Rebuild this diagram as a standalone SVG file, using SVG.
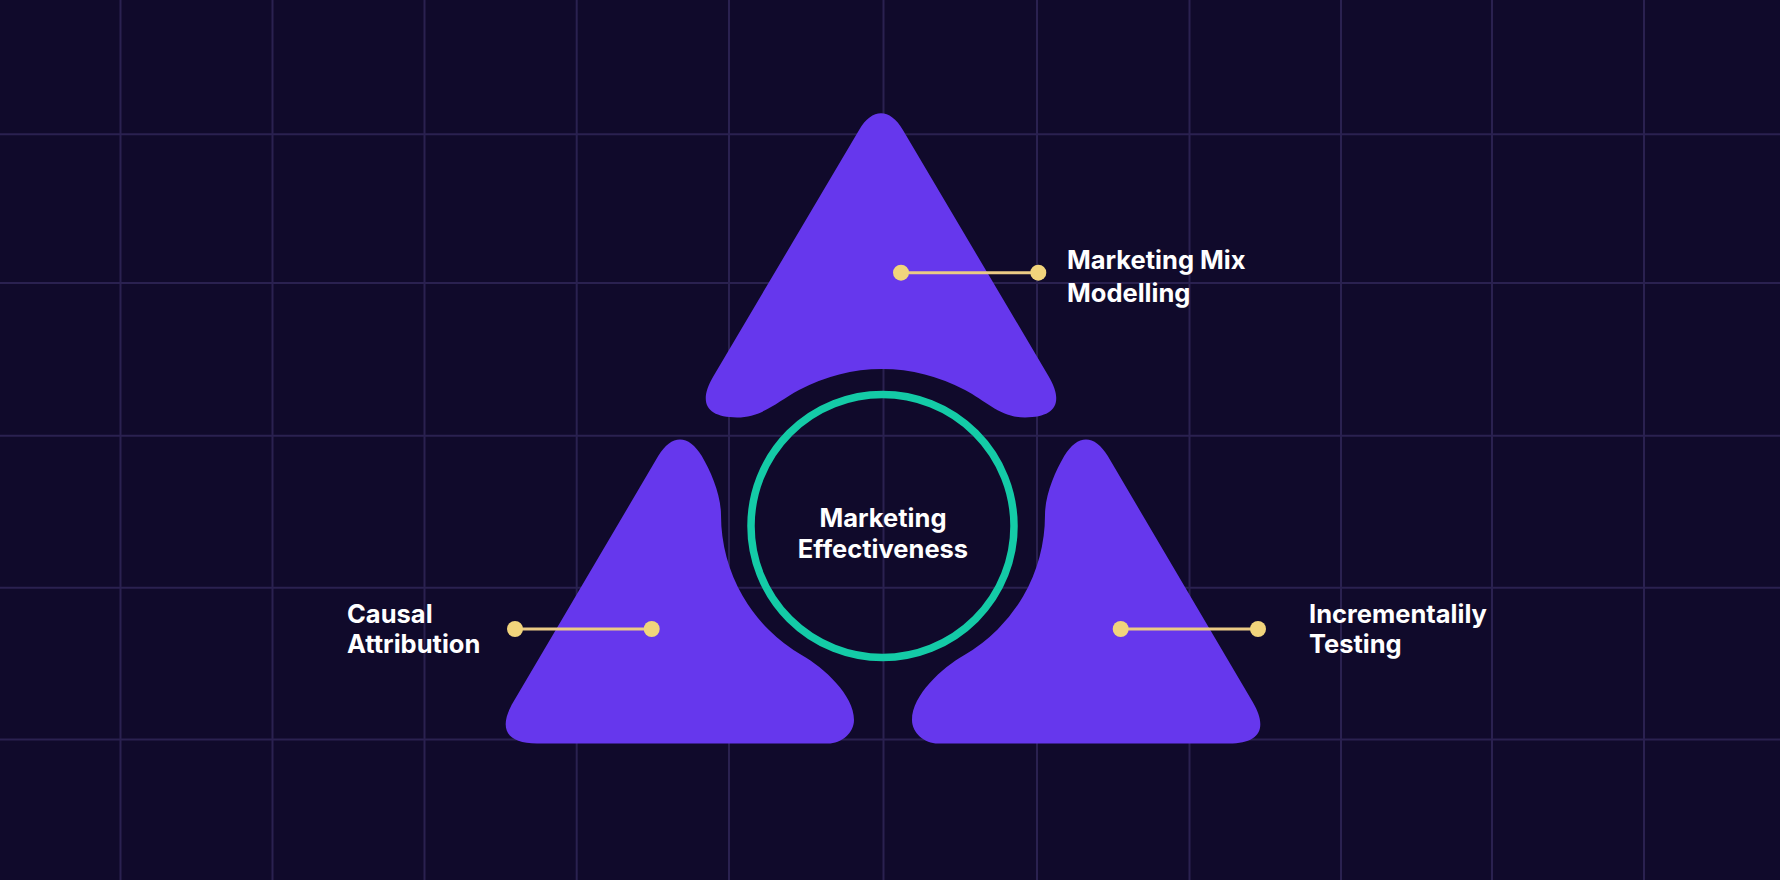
<svg xmlns="http://www.w3.org/2000/svg" width="1780" height="880" viewBox="0 0 1780 880">
<style>
.grid line{stroke:#2a2150;stroke-width:2}
.blob{fill:#6637ed}
.ring{fill:none;stroke:#14cba7;stroke-width:7.5}
.lbl{font-family:Inter,"Noto Sans","Liberation Sans",sans-serif;font-weight:700;font-size:25.5px;fill:#ffffff}
.conn line{stroke:#ebcb85;stroke-width:3}
.conn circle{fill:#f1d47c}
</style>
<rect width="1780" height="880" fill="#100a2b"/>
<g class="grid">
<line x1="120.5" y1="0" x2="120.5" y2="880"/>
<line x1="272.5" y1="0" x2="272.5" y2="880"/>
<line x1="424.5" y1="0" x2="424.5" y2="880"/>
<line x1="576.7" y1="0" x2="576.7" y2="880"/>
<line x1="729" y1="0" x2="729" y2="880"/>
<line x1="883.5" y1="0" x2="883.5" y2="880"/>
<line x1="1037" y1="0" x2="1037" y2="880"/>
<line x1="1189.5" y1="0" x2="1189.5" y2="880"/>
<line x1="1341" y1="0" x2="1341" y2="880"/>
<line x1="1492" y1="0" x2="1492" y2="880"/>
<line x1="1644" y1="0" x2="1644" y2="880"/>
<line x1="0" y1="134.3" x2="1780" y2="134.3"/>
<line x1="0" y1="283" x2="1780" y2="283"/>
<line x1="0" y1="435.7" x2="1780" y2="435.7"/>
<line x1="0" y1="587.7" x2="1780" y2="587.7"/>
<line x1="0" y1="739.5" x2="1780" y2="739.5"/>
</g>
<g id="top-mmm">
<path class="blob" d="M859.1 130 C872.2 107.8 889.8 107.8 902.9 130 L1048.6 376.2 C1064.2 402.6 1055.7 417.5 1025 417.5 C1001 417.5 987 401.9 965 390 A175 175 0 0 0 799 390 C777 401.9 762 417.5 737 417.5 C706.3 417.5 697.8 402.6 713.4 376.2 Z"/>
<text class="lbl" x="1067" y="269">Marketing Mix</text>
<text class="lbl" x="1067" y="302">Modelling</text>
</g>
<g id="left-causal">
<path class="blob" d="M658.2 456.1 C671.3 433.8 688.7 433.8 701.8 456.1 C710.9 471.6 721 495 721 515 A162 162 0 0 0 802 655.3 C823.7 667.8 854 695 854 720 C854 733.3 841.3 743.5 828 743.5 L537 743.5 C506.3 743.5 497.7 728.6 513.3 702.1 Z"/>
<text class="lbl" x="347" y="623.3">Causal</text>
<text class="lbl" x="347" y="653.3">Attribution</text>
</g>
<g id="right-incr">
<path class="blob" transform="matrix(-1 0 0 1 1766 0)" d="M658.2 456.1 C671.3 433.8 688.7 433.8 701.8 456.1 C710.9 471.6 721 495 721 515 A162 162 0 0 0 802 655.3 C823.7 667.8 854 695 854 720 C854 733.3 841.3 743.5 828 743.5 L537 743.5 C506.3 743.5 497.7 728.6 513.3 702.1 Z"/>
<text class="lbl" x="1309" y="623.3">Incrementalily</text>
<text class="lbl" x="1309" y="653.3">Testing</text>
</g>
<g id="center">
<circle class="ring" cx="882.5" cy="526" r="131.5"/>
<text class="lbl" x="883" y="526.7" text-anchor="middle">Marketing</text>
<text class="lbl" x="883" y="557.7" text-anchor="middle">Effectiveness</text>
</g>
<g class="conn" id="connectors">
<line x1="901" y1="272.7" x2="1038.3" y2="272.7"/>
<circle cx="901" cy="272.7" r="8"/>
<circle cx="1038.3" cy="272.7" r="8"/>
<line x1="515" y1="629" x2="651.7" y2="629"/>
<circle cx="515" cy="629" r="8"/>
<circle cx="651.7" cy="629" r="8"/>
<line x1="1120.7" y1="629" x2="1258" y2="629"/>
<circle cx="1120.7" cy="629" r="8"/>
<circle cx="1258" cy="629" r="8"/>
</g>
</svg>
